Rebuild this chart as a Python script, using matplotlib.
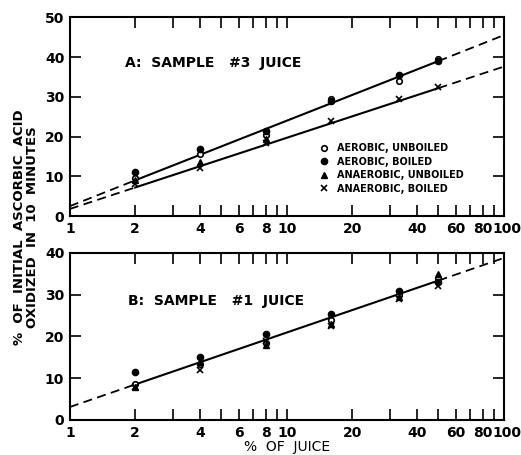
import numpy as np
import matplotlib
matplotlib.use("Agg")
import matplotlib.pyplot as plt
import matplotlib.transforms as mtransforms

plt.rcParams['font.family'] = 'DejaVu Sans'
plt.rcParams['font.weight'] = 'bold'

# % of juice at which each sample was measured
juice = [2, 4, 8, 16, 33, 50]

# A: sample #3 juice
a_aer_unboiled = [9.5, 15.5, 20.5, 29.5, 34, 39.5]
a_aer_boiled = [11, 17, 21.5, 29, 35.5, 39]
a_ana_unboiled = [9, 13.5, 19.5, np.nan, np.nan, np.nan]
a_ana_boiled = [8, 12, 18.5, 24, 29.5, 32.5]

# B: sample #1 juice
b_aer_unboiled = [8.5, 13.5, 18.5, 24, 30, 34]
b_aer_boiled = [11.5, 15, 20.5, 25.5, 31, 33]
b_ana_unboiled = [8, 14, 18, 23, 29.5, 35]
b_ana_boiled = [8, 12, 19, 22.5, 29, 32]

# fitted lines: dashed 1-2, solid 2-50, dashed 50-100
fit_x = [1, 2, 50, 100]
a_fit_aerobic = [2.5, 9.0, 39.0, 45.5]
a_fit_anaerobic = [1.8, 7.2, 32.2, 37.6]
b_fit = [3.1, 8.5, 33.4, 38.8]

xticks = [1, 2, 3, 4, 5, 6, 7, 8, 9, 10, 20, 30, 40, 50, 60, 70, 80, 90, 100]
xlabels = ['1', '2', '', '4', '', '6', '', '8', '', '10',
           '20', '', '40', '', '60', '', '80', '', '100']

labels = ['AEROBIC, UNBOILED', 'AEROBIC, BOILED',
          'ANAEROBIC, UNBOILED', 'ANAEROBIC, BOILED']


def draw_fit(ax, y):
    ax.plot(fit_x[0:2], y[0:2], color='black', lw=1.3, ls=(0, (5, 3)))
    ax.plot(fit_x[1:3], y[1:3], color='black', lw=1.5)
    ax.plot(fit_x[2:4], y[2:4], color='black', lw=1.3, ls=(0, (5, 3)))


def draw_points(ax, s1, s2, s3, s4):
    h1, = ax.plot(juice, s1, 'o', ms=4, mfc='white', mec='black', mew=1.2, ls='none')
    h2, = ax.plot(juice, s2, 'o', ms=4.5, color='black', ls='none')
    h3, = ax.plot(juice, s3, '^', ms=4.5, color='black', ls='none')
    h4, = ax.plot(juice, s4, 'x', ms=4, color='black', mew=1.2, ls='none')
    return [h1, h2, h3, h4]


def style(ax, ymax):
    ax.set_xscale('log')
    ax.set_xlim(1, 100)
    ax.set_ylim(0, ymax)
    ax.set_xticks(xticks)
    ax.set_xticklabels(xlabels)
    ax.minorticks_off()
    ax.set_yticks(range(0, ymax + 1, 10))
    ax.tick_params(direction='in', top=True, right=True, length=8, width=1.2,
                   labelsize=10, pad=4)
    # push "100" a little to the right so it clears "80"
    lab = ax.get_xticklabels()[-1]
    lab.set_transform(lab.get_transform() +
                      mtransforms.ScaledTranslation(2.5 / 72, 0, fig.dpi_scale_trans))
    for s in ax.spines.values():
        s.set_linewidth(1.5)


fig = plt.figure(figsize=(5.21, 4.55), dpi=100)
ax1 = fig.add_axes([0.134, 0.525, 0.833, 0.437])
ax2 = fig.add_axes([0.134, 0.077, 0.833, 0.367])

draw_fit(ax1, a_fit_aerobic)
draw_fit(ax1, a_fit_anaerobic)
handles = draw_points(ax1, a_aer_unboiled, a_aer_boiled, a_ana_unboiled, a_ana_boiled)
style(ax1, 50)
ax1.text(0.127, 0.77, 'A:  SAMPLE   #3  JUICE', transform=ax1.transAxes,
         fontsize=10, va='center', ha='left')
ax1.legend(handles, labels, loc='upper left', bbox_to_anchor=(0.56, 0.39),
           frameon=False, fontsize=7, handlelength=1.2, handletextpad=0.8,
           labelspacing=0.35, borderpad=0)

draw_fit(ax2, b_fit)
draw_points(ax2, b_aer_unboiled, b_aer_boiled, b_ana_unboiled, b_ana_boiled)
style(ax2, 40)
ax2.text(0.134, 0.713, 'B:  SAMPLE   #1  JUICE', transform=ax2.transAxes,
         fontsize=10, va='center', ha='left')
ax2.set_xlabel('%  OF  JUICE', fontsize=10, labelpad=0)

fig.text(0.05, 0.5, '%  OF  INITIAL  ASCORBIC  ACID\nOXIDIZED  IN  10  MINUTES',
         rotation=90, ha='center', va='center', fontsize=9.5,
         multialignment='center', linespacing=0.95)

fig.savefig('out.png', dpi=100)
